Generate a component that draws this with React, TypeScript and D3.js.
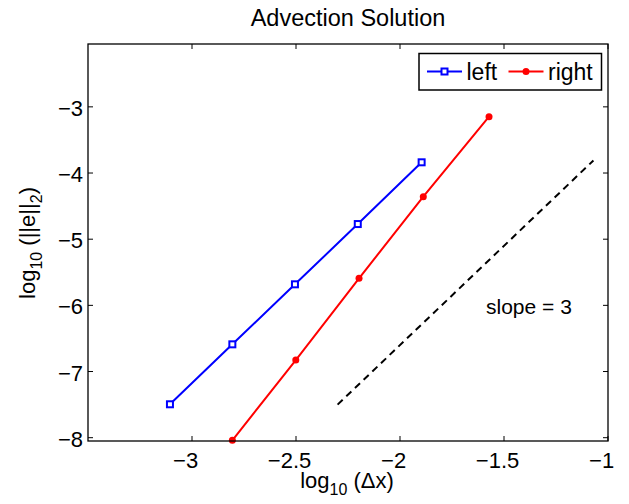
import React, { useEffect, useRef } from "react";
import * as d3 from "d3";

// values
const xTicks = [-3, -2.5, -2, -1.5, -1];
const yTicks = [-8, -7, -6, -5, -4, -3];
const leftX = [-3.106, -2.806, -2.505, -2.203, -1.896];
const leftY = [-7.495, -6.589, -5.682, -4.771, -3.838];
const rightX = [-2.806, -2.501, -2.197, -1.888, -1.572];
const rightY = [-8.04, -6.826, -5.591, -4.358, -3.149];
const slopeX = [-2.3, -1.07];
const slopeY = [-7.5, -3.81];
const seriesNames = ["left", "right"];

const W = 629;
const H = 504;
const FONT = "'Liberation Sans', Arial, Helvetica, sans-serif";

const App = () => {
  const svgRef = useRef<SVGSVGElement>(null);

  useEffect(() => {
    const svg = d3.select(svgRef.current);
    svg.selectAll("*").remove();

    const box = { left: 88, right: 608, top: 44, bottom: 441 };

    const x = d3.scaleLinear().domain([-3.5, -1]).range([box.left, box.right]);
    const y = d3.scaleLinear().domain([-8.05, -2.05]).range([box.bottom, box.top]);

    svg.append("rect").attr("width", W).attr("height", H).attr("fill", "#fff");

    // tick marks pointing inward, on all four sides
    const tick = 5;
    const g = svg.append("g").attr("stroke", "#000").attr("stroke-width", 1);
    xTicks.forEach((t) => {
      g.append("line").attr("x1", x(t)).attr("x2", x(t)).attr("y1", box.bottom).attr("y2", box.bottom - tick);
      g.append("line").attr("x1", x(t)).attr("x2", x(t)).attr("y1", box.top).attr("y2", box.top + tick);
    });
    yTicks.forEach((t) => {
      g.append("line").attr("x1", box.left).attr("x2", box.left + tick).attr("y1", y(t)).attr("y2", y(t));
      g.append("line").attr("x1", box.right).attr("x2", box.right - tick).attr("y1", y(t)).attr("y2", y(t));
    });

    // x tick labels: digits centred on the tick, minus sign hanging left (MATLAB style)
    xTicks.forEach((t) => {
      const digits = d3.format("")(Math.abs(t));
      const txt = svg
        .append("text")
        .attr("x", x(t))
        .attr("y", box.bottom + 27)
        .attr("text-anchor", "middle")
        .style("font-family", FONT)
        .style("font-size", "22px")
        .text(digits);
      const w = (txt.node() as SVGTextElement).getComputedTextLength();
      if (t < 0) {
        svg
          .append("text")
          .attr("x", x(t) - w / 2)
          .attr("y", box.bottom + 27)
          .attr("text-anchor", "end")
          .style("font-family", FONT)
          .style("font-size", "22px")
          .text("\u2212");
      }
    });

    // y tick labels
    yTicks.forEach((t) => {
      svg
        .append("text")
        .attr("x", box.left - 5)
        .attr("y", y(t) + 9)
        .attr("text-anchor", "end")
        .style("font-family", FONT)
        .style("font-size", "22px")
        .text(t < 0 ? "\u2212" + Math.abs(t) : String(t));
    });

    // slope reference line
    svg
      .append("path")
      .datum(d3.zip(slopeX, slopeY))
      .attr("fill", "none")
      .attr("stroke", "#000")
      .attr("stroke-width", 2)
      .attr("stroke-dasharray", "7,5")
      .attr("d", d3.line().x((d) => x(d[0])).y((d) => y(d[1])));

    svg
      .append("text")
      .attr("x", 486)
      .attr("y", 314)
      .style("font-family", FONT)
      .style("font-size", "21px")
      .text("slope = 3");

    const line = d3
      .line<number[]>()
      .x((d) => x(d[0]))
      .y((d) => y(d[1]));

    // left: blue with squares
    const leftData = d3.zip(leftX, leftY);
    svg
      .append("path")
      .datum(leftData)
      .attr("fill", "none")
      .attr("stroke", "#0000ff")
      .attr("stroke-width", 2)
      .attr("d", line);
    svg
      .selectAll("rect.sq")
      .data(leftData)
      .enter()
      .append("rect")
      .attr("class", "sq")
      .attr("x", (d) => x(d[0]) - 3)
      .attr("y", (d) => y(d[1]) - 3)
      .attr("width", 6)
      .attr("height", 6)
      .attr("fill", "#fff")
      .attr("stroke", "#0000ff")
      .attr("stroke-width", 2);

    // right: red with dots
    const rightData = d3.zip(rightX, rightY);
    svg
      .append("path")
      .datum(rightData)
      .attr("fill", "none")
      .attr("stroke", "#ff0000")
      .attr("stroke-width", 2)
      .attr("d", line);
    svg
      .selectAll("circle.dot")
      .data(rightData)
      .enter()
      .append("circle")
      .attr("class", "dot")
      .attr("cx", (d) => x(d[0]))
      .attr("cy", (d) => y(d[1]))
      .attr("r", 3.5)
      .attr("fill", "#ff0000");

    // axes box
    svg
      .append("rect")
      .attr("x", box.left)
      .attr("y", box.top)
      .attr("width", box.right - box.left)
      .attr("height", box.bottom - box.top)
      .attr("fill", "none")
      .attr("stroke", "#000")
      .attr("stroke-width", 1.3);

    // legend
    const lg = svg.append("g");
    lg.append("rect")
      .attr("x", 419)
      .attr("y", 53.5)
      .attr("width", 182.5)
      .attr("height", 36.5)
      .attr("fill", "#fff")
      .attr("stroke", "#000")
      .attr("stroke-width", 1.5);
    const ly = 71.5;
    lg.append("line").attr("x1", 427).attr("x2", 462).attr("y1", ly).attr("y2", ly)
      .attr("stroke", "#0000ff").attr("stroke-width", 2);
    lg.append("rect").attr("x", 444.5 - 3).attr("y", ly - 3).attr("width", 6).attr("height", 6)
      .attr("fill", "#fff").attr("stroke", "#0000ff").attr("stroke-width", 2);
    lg.append("text").attr("x", 466.5).attr("y", 80).style("font-family", FONT).style("font-size", "23px")
      .text(seriesNames[0]);
    lg.append("line").attr("x1", 508.5).attr("x2", 543.5).attr("y1", ly).attr("y2", ly)
      .attr("stroke", "#ff0000").attr("stroke-width", 2);
    lg.append("circle").attr("cx", 526).attr("cy", ly).attr("r", 3.5).attr("fill", "#ff0000");
    lg.append("text").attr("x", 548).attr("y", 80).style("font-family", FONT).style("font-size", "23px")
      .text(seriesNames[1]);

    // title
    svg
      .append("text")
      .attr("x", (box.left + box.right) / 2)
      .attr("y", 26)
      .attr("text-anchor", "middle")
      .style("font-family", FONT)
      .style("font-size", "23.5px")
      .text("Advection Solution");

    // x label: log10 (Δx)
    const xl = svg
      .append("text")
      .attr("x", 347)
      .attr("y", 488)
      .attr("text-anchor", "middle")
      .style("font-family", FONT)
      .style("font-size", "22px");
    xl.append("tspan").text("log");
    xl.append("tspan").attr("dy", 7).style("font-size", "16px").text("10");
    xl.append("tspan").attr("dy", -7).text(" (\u0394x)");

    // y label: log10 (||e||2)
    const yl = svg
      .append("text")
      .attr("transform", "translate(35,243) rotate(-90)")
      .attr("text-anchor", "middle")
      .style("font-family", FONT)
      .style("font-size", "22px");
    yl.append("tspan").text("log");
    yl.append("tspan").attr("dy", 7).style("font-size", "16px").text("10");
    yl.append("tspan").attr("dy", -7).text(" (||e||");
    yl.append("tspan").attr("dy", 7).style("font-size", "16px").text("2");
    yl.append("tspan").attr("dy", -7).text(")");
  }, []);

  return (
    <svg
      ref={svgRef}
      width={W}
      height={H}
      style={{ position: "absolute", left: 0, top: 0, display: "block" }}
    ></svg>
  );
};

export default App;
